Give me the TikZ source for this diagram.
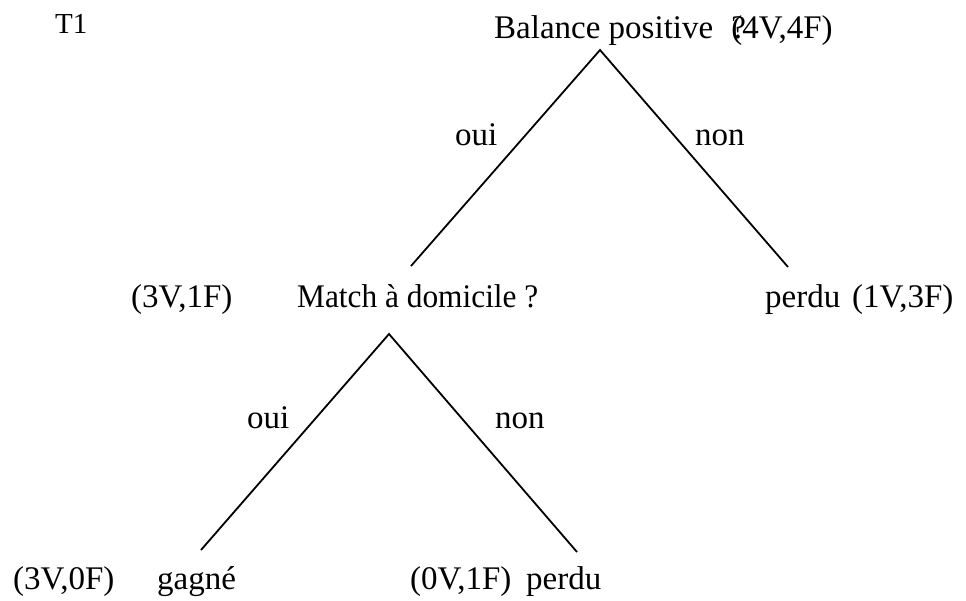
\documentclass[tikz,border=0pt]{standalone}
\usepackage{fontspec}
\setmainfont{Liberation Serif}
\tikzset{
    lbl/.style={anchor=base west, inner sep=0pt, font=\fontsize{33}{40}\selectfont},
    branch/.style={line width=1.8pt}
}
\begin{document}
\begin{tikzpicture}[x=1pt,y=-1pt]
            \useasboundingbox (0,0) rectangle (966,600);
            \node[lbl, font=\fontsize{29}{34}\selectfont] (title) at (55,33) {T1};
            \begin{scope}
                \coordinate (rootApex) at (600,50);
                \coordinate (rootLeft) at (411,266);
                \coordinate (rootRight) at (788,267);
                \draw[branch] (rootLeft) -- (rootApex) -- (rootRight);
                \node[lbl] (rootQ) at (494,38) {Balance positive\hspace{0.55em}\rlap{?}(4V,4F)};
                \node[lbl] (rootOui) at (455,145) {oui};
                \node[lbl] (rootNon) at (695,145) {non};
                \node[lbl] (rightLeaf) at (765,307) {perdu};
                \node[lbl] (rightCount) at (852,307) {(1V,3F)};
            \end{scope}
            \begin{scope}
                \coordinate (subApex) at (389,334);
                \coordinate (subLeft) at (201,550);
                \coordinate (subRight) at (577,552);
                \draw[branch] (subLeft) -- (subApex) -- (subRight);
                \node[lbl] (subCount) at (131,307) {(3V,1F)};
                \node[lbl, xscale=0.95] (subQ) at (297,307) {Match à domicile ?};
                \node[lbl] (subOui) at (247,428) {oui};
                \node[lbl] (subNon) at (495,428) {non};
                \node[lbl] (leftCount) at (13,589) {(3V,0F)};
                \node[lbl] (leftLeaf) at (157,589) {gagné};
                \node[lbl] (midCount) at (410,589) {(0V,1F)};
                \node[lbl] (midLeaf) at (526,589) {perdu};
            \end{scope}
        \end{tikzpicture}
\end{document}
